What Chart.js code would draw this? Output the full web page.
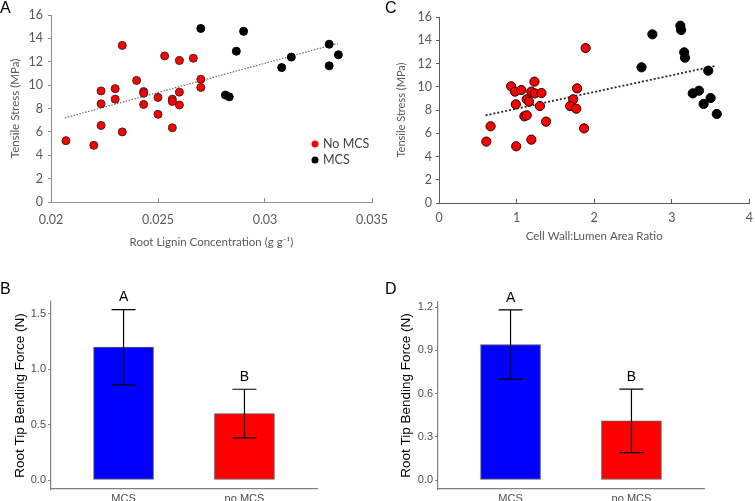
<!DOCTYPE html>
<html>
<head>
<meta charset="utf-8">
<script src="https://cdn.jsdelivr.net/npm/chart.js@4.4.1/dist/chart.umd.min.js"></script>
<style>
  body { margin: 0; background: #fff; }
  #wrap { position: relative; width: 755px; height: 501px; overflow: hidden; background: #fff; }
  canvas { position: absolute; }
  .tag { position: absolute; font: 16px "Liberation Sans", Arial, sans-serif; line-height: 16px; color: #000; }
</style>
</head>
<body>
<div id="wrap">
  <canvas id="cA" width="392" height="250" style="left:0;top:0"></canvas>
  <canvas id="cC" width="377" height="250" style="left:378px;top:0"></canvas>
  <canvas id="cB" width="378" height="251" style="left:0;top:250px"></canvas>
  <canvas id="cD" width="377" height="251" style="left:378px;top:250px"></canvas>
  <div class="tag" style="left:0;top:0">A</div>
  <div class="tag" style="left:385px;top:0">C</div>
  <div class="tag" style="left:0;top:281px">B</div>
  <div class="tag" style="left:385px;top:281px">D</div>
</div>
<script>
// panel A: root lignin concentration vs tensile stress
const ligNoMcsX = [0.0207, 0.0220, 0.02234, 0.02234, 0.02234, 0.0230, 0.0230, 0.02333, 0.02333, 0.0240,
  0.02433, 0.02433, 0.02433, 0.0250, 0.0250, 0.02531, 0.02567, 0.02567, 0.02567, 0.0260, 0.0260, 0.0260,
  0.02665, 0.0270, 0.0270];
const ligNoMcsY = [5.25, 4.85, 9.5, 8.4, 6.55, 9.7, 8.8, 13.4, 6.0, 10.4,
  9.45, 9.3, 8.35, 8.95, 7.5, 12.5, 8.8, 8.6, 6.35, 12.1, 9.4, 8.3,
  12.3, 10.5, 9.8];
const ligMcsX = [0.0270, 0.02815, 0.02833, 0.02866, 0.0290, 0.03078, 0.03123, 0.0330, 0.0330, 0.03343];
const ligMcsY = [14.85, 9.15, 9.0, 12.9, 14.6, 11.5, 12.4, 13.5, 11.65, 12.6];
const ligTrendX = [0.02065, 0.0334];
const ligTrendY = [7.2, 13.57];
const ligTicksX = [0.02, 0.025, 0.03, 0.035];
const stressTicks = [0, 2, 4, 6, 8, 10, 12, 14, 16];

// panel C: cell wall:lumen area ratio vs tensile stress
const ratioNoMcsX = [0.93, 0.98, 1.06, 1.23, 1.19, 1.235, 1.32, 0.99, 1.13, 1.16, 1.30, 1.10,
  1.13, 1.38, 0.665, 0.61, 0.995, 1.19, 1.78, 1.73, 1.69, 1.77, 1.87, 1.89];
const ratioNoMcsY = [10.04, 9.58, 9.72, 10.44, 9.58, 9.43, 9.46, 8.49, 8.92, 8.72, 8.34, 7.46,
  7.54, 7.0, 6.6, 5.28, 4.88, 5.45, 9.86, 8.92, 8.34, 8.11, 6.42, 13.33];
const ratioMcsX = [2.75, 3.11, 3.12, 3.16, 3.17, 2.61, 3.47, 3.27, 3.35, 3.50, 3.41, 3.58];
const ratioMcsY = [14.51, 15.25, 14.88, 12.96, 12.5, 11.67, 11.38, 9.43, 9.66, 9.03, 8.52, 7.66];
const ratioTrendX = [0.60, 3.55];
const ratioTrendY = [7.54, 11.78];
const ratioTicksX = [0, 1, 2, 3, 4];

// panels B and D: root tip bending force
const groups = ['MCS', 'no MCS'];
const groupLetters = ['A', 'B'];
const forceB = [1.2, 0.6];
const forceBLow = [0.86, 0.38];
const forceBHigh = [1.54, 0.82];
const forceBTicks = [0, 0.5, 1.0, 1.5];
const forceD = [0.94, 0.41];
const forceDLow = [0.70, 0.19];
const forceDHigh = [1.18, 0.63];
const forceDTicks = [0, 0.3, 0.6, 0.9, 1.2];

const pts = (xs, ys) => xs.map((x, i) => ({ x: x, y: ys[i] }));

Chart.defaults.animation = false;
Chart.defaults.plugins.legend.display = false;
Chart.defaults.plugins.tooltip.enabled = false;

const calibri = 'Lato, "Open Sans", sans-serif';
const arial = '"Liberation Sans", Arial, sans-serif';

// little legend inside panel A
const legendA = {
  id: 'legendA',
  afterDatasetsDraw(chart) {
    const ctx = chart.ctx, a = chart.chartArea;
    ctx.save();
    ctx.font = '12.5px ' + calibri;
    ctx.textBaseline = 'middle';
    chart.data.datasets.slice(0, 2).forEach((ds, i) => {
      const x = a.right - 57, y = a.top + 129 + i * 16;
      ctx.beginPath();
      ctx.arc(x, y, 3.5, 0, Math.PI * 2);
      ctx.fillStyle = ds.backgroundColor;
      ctx.fill();
      ctx.fillStyle = '#404040';
      ctx.fillText(ds.label, x + 8, y);
    });
    ctx.restore();
  }
};

function fixScale(w, h) {
  return function (s) {
    if (w != null) s.width = w;
    if (h != null) s.height = h;
    s.paddingLeft = 0; s.paddingRight = 0; s.paddingTop = 0; s.paddingBottom = 0;
  };
}

function scatterPanel(id, sets, trendX, trendY, o) {
  new Chart(document.getElementById(id), {
    type: 'scatter',
    data: {
      datasets: [
        { label: 'No MCS', data: pts(sets[0], sets[1]), backgroundColor: '#ff0000',
          borderColor: o.redEdge, borderWidth: 1, pointRadius: o.r },
        { label: 'MCS', data: pts(sets[2], sets[3]), backgroundColor: '#000000',
          borderColor: '#000000', borderWidth: 1, pointRadius: o.r },
        { type: 'line', label: 'trend', data: pts(trendX, trendY), showLine: true, pointRadius: 0,
          borderColor: o.trendColor, borderWidth: o.trendWidth, borderDash: o.dash, fill: false, order: 5 }
      ]
    },
    options: {
      responsive: false,
      layout: { padding: o.pad },
      scales: {
        x: {
          type: 'linear', min: o.xTicks[0], max: o.xTicks[o.xTicks.length - 1],
          afterFit: fixScale(null, o.xh),
          afterBuildTicks: s => { s.ticks = o.xTicks.map(v => ({ value: v })); },
          // tick marks point up into the plot
          grid: { drawOnChartArea: false, drawTicks: true, tickLength: -4, color: o.axis },
          border: { color: o.axis, width: 1 },
          ticks: { color: '#595959', font: { family: calibri, size: 12.5 }, padding: o.xpad,
                   maxRotation: 0, autoSkip: false, callback: v => String(v) },
          title: { display: true, text: o.xTitle, color: '#595959', font: { family: calibri, size: 11.5 },
                   padding: { top: 0, bottom: o.xtPad } }
        },
        y: {
          min: 0, max: 16,
          afterFit: fixScale(o.yw, null),
          afterBuildTicks: s => { s.ticks = stressTicks.map(v => ({ value: v })); },
          grid: { drawOnChartArea: false, drawTicks: true, tickLength: 3, color: o.axis },
          border: { color: o.axis, width: 1 },
          ticks: { color: '#595959', font: { family: calibri, size: 12.5 }, padding: o.ypad },
          title: { display: true, text: 'Tensile Stress (MPa)', color: '#595959',
                   font: { family: calibri, size: o.ytSize }, padding: { top: o.ytPad, bottom: 0 } }
        }
      }
    },
    plugins: o.plugins || []
  });
}

scatterPanel('cA', [ligNoMcsX, ligNoMcsY, ligMcsX, ligMcsY], ligTrendX, ligTrendY, {
  r: 4, redEdge: '#4a2020', trendColor: '#6b6b6b', trendWidth: 1.2, dash: [1.5, 1.5],
  pad: { left: 0, top: 15, right: 20, bottom: 0 }, xh: 48, yw: 51,
  xTicks: ligTicksX, xpad: 14, ypad: 5, axis: '#8c8c8c',
  xTitle: 'Root Lignin Concentration (g g\u207B\u00B9)', xtPad: 1, ytSize: 11.5, ytPad: 8,
  plugins: [legendA]
});

scatterPanel('cC', [ratioNoMcsX, ratioNoMcsY, ratioMcsX, ratioMcsY], ratioTrendX, ratioTrendY, {
  r: 4.6, redEdge: '#1a0000', trendColor: '#262626', trendWidth: 1.8, dash: [2, 2],
  pad: { left: 0, top: 17, right: 5, bottom: 0 }, xh: 47, yw: 61,
  xTicks: ratioTicksX, xpad: 11, ypad: 4, axis: '#595959',
  xTitle: 'Cell Wall:Lumen Area Ratio', xtPad: 7, ytSize: 11, ytPad: 17
});

// error bars and significance letters for the bar panels
function errPlugin(low, high) {
  return {
    id: 'errbars',
    afterDatasetsDraw(chart) {
      const ctx = chart.ctx, xs = chart.scales.x, ys = chart.scales.y;
      ctx.save();
      ctx.strokeStyle = '#000';
      ctx.lineWidth = 1.2;
      low.forEach((lo, i) => {
        const x = xs.getPixelForValue(i + 1);
        const y0 = ys.getPixelForValue(lo), y1 = ys.getPixelForValue(high[i]);
        ctx.beginPath();
        ctx.moveTo(x, y0); ctx.lineTo(x, y1);
        ctx.moveTo(x - 12, y0); ctx.lineTo(x + 12, y0);
        ctx.moveTo(x - 12, y1); ctx.lineTo(x + 12, y1);
        ctx.stroke();
        ctx.fillStyle = '#000';
        ctx.font = '14px ' + arial;
        ctx.textAlign = 'center';
        ctx.textBaseline = 'bottom';
        ctx.fillText(groupLetters[i], x, y1 - 5);
      });
      ctx.restore();
    }
  };
}

function barPanel(id, vals, low, high, yTicks, yMin, yMax, o) {
  new Chart(document.getElementById(id), {
    type: 'bar',
    data: {
      datasets: [{
        data: vals.map((v, i) => ({ x: i + 1, y: v })),
        backgroundColor: ['#0000ff', '#ff0000'],
        borderColor: '#5a5a5a', borderWidth: 1, borderSkipped: false, barThickness: 60
      }]
    },
    options: {
      responsive: false,
      layout: { padding: o.pad },
      scales: {
        x: {
          type: 'linear', min: 0.4, max: 2.6, offset: false,
          afterFit: fixScale(null, 12),
          afterBuildTicks: s => { s.ticks = groups.map((g, i) => ({ value: i + 1 })); },
          grid: { drawOnChartArea: false, drawTicks: false },
          border: { color: '#808080', width: 1.2 },
          ticks: { color: '#4d4d4d', font: { family: arial, size: 11 }, padding: 3,
                   maxRotation: 0, autoSkip: false, callback: v => groups[v - 1] }
        },
        y: {
          min: yMin, max: yMax,
          afterFit: fixScale(o.yw, null),
          afterBuildTicks: s => { s.ticks = yTicks.map(v => ({ value: v })); },
          grid: { drawOnChartArea: false, drawTicks: true, tickLength: 3, color: '#808080' },
          border: { color: '#808080', width: 1.2 },
          ticks: { color: '#4d4d4d', font: { family: arial, size: 11 }, padding: 2,
                   callback: v => v.toFixed(1) },
          title: { display: true, text: 'Root Tip Bending Force (N)', color: '#000',
                   font: { family: arial, size: 13.5 }, padding: { top: o.ytPad, bottom: 0 } }
        }
      }
    },
    plugins: [errPlugin(low, high)]
  });
}

barPanel('cB', forceB, forceBLow, forceBHigh, forceBTicks, -0.081, 1.608,
  { pad: { left: 0, top: 52, right: 61, bottom: 0 }, yw: 51, ytPad: 12 });
barPanel('cD', forceD, forceDLow, forceDHigh, forceDTicks, -0.0624, 1.235,
  { pad: { left: 0, top: 52, right: 51, bottom: 0 }, yw: 60, ytPad: 20 });
</script>
</body>
</html>
